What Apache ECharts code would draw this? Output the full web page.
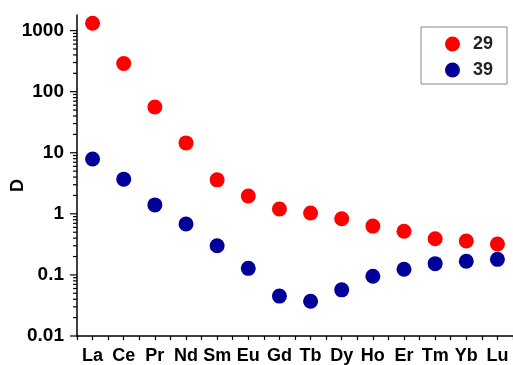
<!DOCTYPE html>
<html>
<head>
<meta charset="utf-8">
<script src="https://cdn.jsdelivr.net/npm/echarts@6/dist/echarts.min.js"></script>
<style>html,body{margin:0;padding:0;background:#fff;}#c{width:513px;height:365px;}</style>
</head>
<body>
<div id="c"></div>
<script>
const categories = ['La','Ce','Pr','Nd','Sm','Eu','Gd','Tb','Dy','Ho','Er','Tm','Yb','Lu'];
const series29 = [1320, 290, 56, 14.5, 3.6, 1.96, 1.2, 1.03, 0.83, 0.63, 0.52, 0.39, 0.36, 0.32];
const series39 = [7.9, 3.7, 1.4, 0.68, 0.30, 0.128, 0.045, 0.037, 0.057, 0.095, 0.124, 0.153, 0.167, 0.18];
const yTickLabels = [0.01, 0.1, 1, 10, 100, 1000];
const seriesNames = ['29', '39'];

const FONT = '"Liberation Sans", Arial, sans-serif';
const yMin = 0.01, yMax = 1800;

// axis tick values (major at decades, minor at 2..9 x decade)
const majorTicks = yTickLabels.slice();
const minorTicks = [];
yTickLabels.forEach(d => { for (let m = 2; m <= 9; m++) { const v = d * m; if (v < yMax) minorTicks.push(v); } });
const tickData = majorTicks.map(v => [0, v, 7]).concat(minorTicks.map(v => [0, v, 4]));

const chart = echarts.init(document.getElementById('c'), null, {renderer: 'canvas'});
chart.setOption({
  animation: false,
  backgroundColor: '#fff',
  grid: {left: 77, right: 0, top: 15, bottom: 29, containLabel: false, outerBoundsMode: 'none'},
  legend: {
    orient: 'vertical',
    left: 421, top: 27,
    padding: [8, 14, 5, 24],
    itemGap: 8,
    itemWidth: 15, itemHeight: 15,
    backgroundColor: '#fff',
    borderColor: '#888', borderWidth: 1,
    data: [{name: seriesNames[0], icon: 'circle'}, {name: seriesNames[1], icon: 'circle'}],
    textStyle: {fontFamily: FONT, fontWeight: 'bold', fontSize: 18, color: '#222', padding: [0, 0, 0, 8]}
  },
  xAxis: [{
    type: 'category', data: categories, boundaryGap: true,
    axisLine: {lineStyle: {color: '#000', width: 1.5}},
    axisTick: {show: true, length: 4, lineStyle: {color: '#000', width: 1.2}},
    axisLabel: {fontFamily: FONT, fontWeight: 'bold', fontSize: 18, color: '#000', margin: 11, interval: 0},
    splitLine: {show: false}
  }, {
    type: 'category', data: categories, boundaryGap: true, position: 'bottom',
    axisLine: {show: false},
    axisTick: {show: true, alignWithLabel: true, length: 4, lineStyle: {color: '#000', width: 1.2}},
    axisLabel: {show: false},
    splitLine: {show: false}
  }],
  yAxis: {
    type: 'log', logBase: 10, min: yMin, max: yMax,
    name: 'D', nameLocation: 'middle', nameGap: 50, nameRotate: 90, nameMoveOverlap: false,
    nameTextStyle: {fontFamily: FONT, fontWeight: 'bold', fontSize: 18, color: '#000', padding: [0, 20, 0, 0]},
    axisLine: {show: true, lineStyle: {color: '#000', width: 1.5}},
    axisTick: {show: false},
    axisLabel: {
      fontFamily: FONT, fontWeight: 'bold', fontSize: 19, color: '#000', margin: 13,
      formatter: function (v) {
        const l = Math.log10(v);
        if (Math.abs(l - Math.round(l)) > 1e-6) return '';
        return String(+v.toPrecision(3));
      }
    },
    splitLine: {show: false}
  },
  series: [{
    name: seriesNames[0], type: 'scatter', data: series29,
    symbol: 'circle', symbolSize: 15,
    itemStyle: {color: '#ff0000', opacity: 1}
  }, {
    name: seriesNames[1], type: 'scatter', data: series39,
    symbol: 'circle', symbolSize: 15,
    itemStyle: {color: '#000099', opacity: 1}
  }, {
    name: 'ticks', type: 'custom', data: tickData, silent: true, clip: false,
    encode: {x: 0, y: 1},
    renderItem: function (params, api) {
      const y = api.coord([0, api.value(1)])[1];
      const x = params.coordSys.x;
      const len = api.value(2);
      return {type: 'line', shape: {x1: x - len, y1: y, x2: x, y2: y},
              style: {stroke: '#000', lineWidth: 1.2}};
    }
  }]
});
</script>
</body>
</html>
